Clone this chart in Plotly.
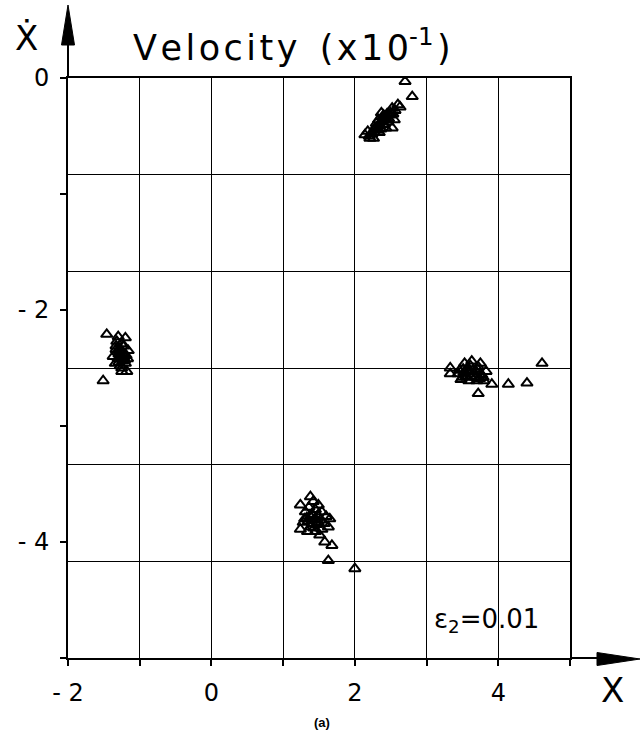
import plotly.graph_objects as go

# ---- data ----
top_x = [2.70, 2.80, 2.14, 2.24, 2.28, 2.35, 2.42, 2.49, 2.56, 2.60, 2.52, 2.32, 2.21, 2.46, 2.39,
         2.55, 2.52, 2.43, 2.26, 2.18, 2.63, 2.37, 2.30, 2.45, 2.34,
         2.31, 2.38, 2.44, 2.50, 2.41, 2.36, 2.27, 2.47, 2.33, 2.40, 2.53, 2.20]
top_y = [-0.03, -0.16, -0.49, -0.48, -0.43, -0.41, -0.36, -0.32, -0.28, -0.23, -0.26, -0.45, -0.52,
         -0.38, -0.34, -0.36, -0.43, -0.43, -0.52, -0.46, -0.25, -0.30, -0.39, -0.31, -0.47,
         -0.42, -0.37, -0.33, -0.30, -0.40, -0.44, -0.47, -0.35, -0.36, -0.32, -0.31, -0.50]

left_x = [-1.46, -1.20, -1.30, -1.33, -1.27, -1.22, -1.37, -1.30, -1.22, -1.16, -1.27, -1.20,
          -1.32, -1.26, -1.17, -1.18, -1.25, -1.34, -1.51, -1.29, -1.24,
          -1.28, -1.23, -1.31, -1.26, -1.21, -1.29, -1.25, -1.19, -1.33]
left_y = [-2.21, -2.24, -2.23, -2.31, -2.35, -2.31, -2.40, -2.42, -2.40, -2.35, -2.48, -2.46,
          -2.27, -2.29, -2.42, -2.53, -2.53, -2.46, -2.61, -2.38, -2.44,
          -2.33, -2.37, -2.36, -2.40, -2.43, -2.45, -2.50, -2.39, -2.34]

right_x = [4.61, 4.40, 3.72, 3.33, 3.33, 3.44, 3.51, 3.55, 3.61, 3.66, 3.72, 3.77, 3.83, 3.48,
           3.59, 3.70, 3.80, 3.63, 3.53, 3.75, 3.91, 4.14, 3.58, 3.68,
           3.46, 3.52, 3.57, 3.64, 3.69, 3.74, 3.79, 3.62, 3.56, 3.71, 3.50]
right_y = [-2.46, -2.63, -2.72, -2.50, -2.55, -2.55, -2.51, -2.57, -2.48, -2.55, -2.49, -2.56,
           -2.53, -2.60, -2.61, -2.61, -2.61, -2.44, -2.46, -2.46, -2.64, -2.64, -2.53, -2.58,
           -2.52, -2.54, -2.50, -2.52, -2.53, -2.59, -2.58, -2.57, -2.58, -2.51, -2.58]

bottom_x = [1.38, 1.24, 1.63, 2.00, 1.68, 1.58, 1.31, 1.38, 1.45, 1.28, 1.38, 1.49, 1.54, 1.60,
            1.65, 1.45, 1.51, 1.34, 1.24, 1.42, 1.49, 1.63, 1.54, 1.35, 1.44,
            1.33, 1.40, 1.47, 1.52, 1.57, 1.36, 1.43, 1.30, 1.48, 1.41]
bottom_y = [-3.61, -3.68, -4.16, -4.23, -4.03, -4.00, -3.74, -3.78, -3.72, -3.83, -3.87, -3.83,
            -3.89, -3.78, -3.80, -3.91, -3.94, -3.91, -3.89, -3.65, -3.68, -3.87, -3.74, -3.82, -3.80,
            -3.79, -3.76, -3.85, -3.81, -3.84, -3.70, -3.88, -3.80, -3.77, -3.84]

x_ticks = [-2, -1, 0, 1, 2, 3, 4, 5]
x_ticktext = ["- 2", "", "0", "", "2", "", "4", ""]
y_ticks = [0, -1, -2, -3, -4, -5]
y_ticktext = ["0", "", "- 2", "", "- 4", ""]
y_grid = [0, -5 / 6, -10 / 6, -15 / 6, -20 / 6, -25 / 6, -5]

FONT = "DejaVu Sans"

fig = go.Figure()
for xs, ys in [(top_x, top_y), (left_x, left_y), (right_x, right_y), (bottom_x, bottom_y)]:
    fig.add_trace(go.Scatter(
        x=xs, y=ys, mode="markers",
        marker=dict(symbol="triangle-up-open", size=10, color="black", line=dict(width=2, color="black")),
        showlegend=False, hoverinfo="skip"))

fig.update_layout(
    width=640, height=733,
    margin=dict(l=68, r=70, t=78, b=75),
    paper_bgcolor="white", plot_bgcolor="white",
    font=dict(family=FONT, color="black"),
    showlegend=False,
    xaxis=dict(range=[-2, 5], tickvals=x_ticks, ticktext=x_ticktext, ticks="outside", ticklen=6,
               tickwidth=1.5, tickcolor="black", showgrid=True, gridcolor="black", gridwidth=1.2,
               showline=True, linecolor="black", linewidth=2, mirror=True, zeroline=False,
               tickfont=dict(size=24, family=FONT), ticklabelstandoff=6, fixedrange=True),
    yaxis=dict(range=[-5, 0], tickvals=y_ticks, ticktext=y_ticktext, ticks="outside", ticklen=6,
               tickwidth=1.5, tickcolor="black", showgrid=False,
               minor=dict(tickvals=y_grid, showgrid=True, gridcolor="black", gridwidth=1.2, ticks=""),
               showline=True, linecolor="black", linewidth=2, mirror=True, zeroline=False,
               tickfont=dict(size=24, family=FONT), ticklabelstandoff=6, fixedrange=True),
)

def px2paper(px, py):
    return (px - 68) / 502.0, (658 - py) / 580.0

# y-axis arrow
x0, y0 = px2paper(68, 78)
x1, y1 = px2paper(68, 42)
fig.add_shape(type="line", xref="paper", yref="paper", x0=x0, y0=y0, x1=x1, y1=y1,
              line=dict(color="black", width=2))
a = px2paper(68, 5); b = px2paper(61.5, 45); c = px2paper(74.5, 45)
fig.add_shape(type="path", xref="paper", yref="paper",
              path=f"M {a[0]} {a[1]} L {b[0]} {b[1]} L {c[0]} {c[1]} Z",
              fillcolor="black", line=dict(color="black", width=1))
# x-axis arrow
x0, y0 = px2paper(570, 658)
x1, y1 = px2paper(600, 658)
fig.add_shape(type="line", xref="paper", yref="paper", x0=x0, y0=y0, x1=x1, y1=y1,
              line=dict(color="black", width=2))
a = px2paper(640, 659); b = px2paper(597, 652.5); c = px2paper(597, 665.5)
fig.add_shape(type="path", xref="paper", yref="paper",
              path=f"M {a[0]} {a[1]} L {b[0]} {b[1]} L {c[0]} {c[1]} Z",
              fillcolor="black", line=dict(color="black", width=1))

# texts
HS = "\u200a"
title = HS.join("Velocity") + "  " + HS.join("(x10") + "<sup>-1</sup>" + HS + ")"
tx, ty = px2paper(292, 45)
fig.add_annotation(xref="paper", yref="paper", x=tx, y=ty, xanchor="center", yanchor="middle",
                   text=title, showarrow=False, font=dict(size=35, family=FONT))
tx, ty = px2paper(26, 38)
fig.add_annotation(xref="paper", yref="paper", x=tx, y=ty, xanchor="center", yanchor="middle",
                   text="Ẋ", showarrow=False, font=dict(size=34, family=FONT))
tx, ty = px2paper(612, 690)
fig.add_annotation(xref="paper", yref="paper", x=tx, y=ty, xanchor="center", yanchor="middle",
                   text="X", showarrow=False, font=dict(size=34, family=FONT))
fig.add_annotation(xref="x", yref="y", x=3.08, y=-4.68, xanchor="left", yanchor="middle",
                   text="ε<sub>2</sub>=0.01", showarrow=False, font=dict(size=26, family=FONT))
tx, ty = px2paper(322, 722)
fig.add_annotation(xref="paper", yref="paper", x=tx, y=ty, xanchor="center", yanchor="middle",
                   text="<b>(a)</b>", showarrow=False, font=dict(size=13, family="Liberation Sans"))

fig.write_html("out.html")
